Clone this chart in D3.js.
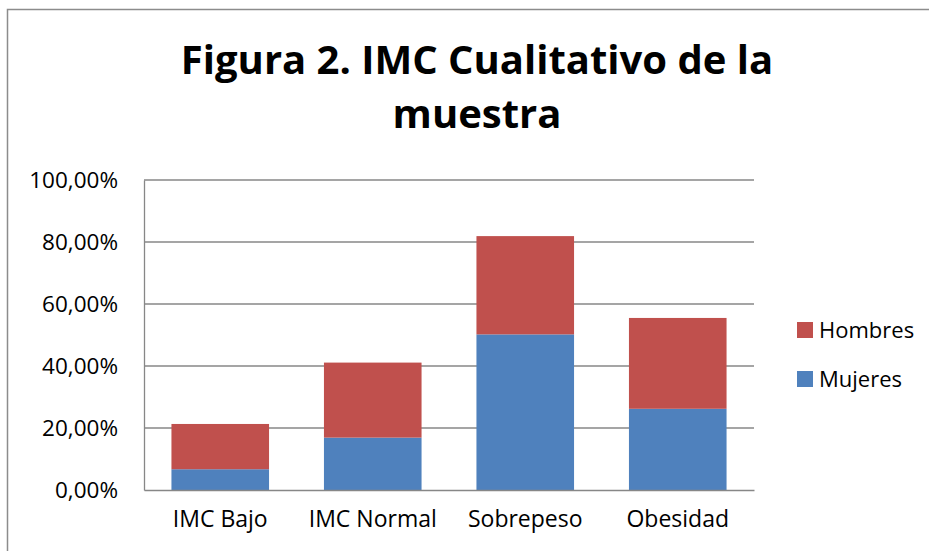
<!DOCTYPE html>
<html>
<head>
<meta charset="utf-8">
<script src="https://cdn.jsdelivr.net/npm/d3@7"></script>
<style>
  body { margin: 0; background: #fff; }
  text { font-family: "Open Sans", sans-serif; fill: #000; }
</style>
</head>
<body>
<div id="chart"></div>
<script>
// values (share of each group)
const categories = ["IMC Bajo", "IMC Normal", "Sobrepeso", "Obesidad"];
const mujeres = [0.067, 0.169, 0.502, 0.262];
const hombres = [0.146, 0.242, 0.317, 0.293];
const seriesNames = ["Mujeres", "Hombres"];
const tickValues = [0, 0.2, 0.4, 0.6, 0.8, 1.0];
const titleLines = ["Figura 2. IMC Cualitativo de la", "muestra"];

const width = 929, height = 551;
const colors = { "Mujeres": "#4F81BD", "Hombres": "#C0504D" };

const svg = d3.select("#chart").append("svg")
    .attr("width", width)
    .attr("height", height);

svg.append("rect")
    .attr("width", width).attr("height", height)
    .attr("fill", "#fff");

// chart border (right and bottom edges fall outside the frame)
svg.append("rect")
    .attr("x", 7.5).attr("y", 9.5)
    .attr("width", 1000).attr("height", 1000)
    .attr("fill", "none")
    .attr("stroke", "#8c8c8c")
    .attr("stroke-width", 1.5);

// title
svg.append("text")
    .attr("x", 477)
    .attr("text-anchor", "middle")
    .attr("font-weight", "bold")
    .attr("font-size", 40)
    .selectAll("tspan")
    .data(titleLines)
    .enter()
    .append("tspan")
    .attr("x", 477)
    .attr("y", (d, i) => 74 + i * 54)
    .text(d => d);

const x = d3.scaleBand()
    .domain(categories)
    .range([144, 754])
    .paddingInner(0.36)
    .paddingOuter(0.18);

const y = d3.scaleLinear()
    .domain([0, 1])
    .range([490, 180]);

// gridlines
svg.append("g")
    .selectAll("line")
    .data(tickValues.slice(1))
    .enter()
    .append("line")
    .attr("x1", 144).attr("x2", 754)
    .attr("y1", d => y(d)).attr("y2", d => y(d))
    .attr("stroke", "#878787")
    .attr("stroke-width", 1.3);

// stacked bars
let rows = categories.map((c, i) => ({ cat: c, Mujeres: mujeres[i], Hombres: hombres[i] }));
let stacked = d3.stack().keys(seriesNames)(rows);

svg.append("g")
    .selectAll("g")
    .data(stacked)
    .enter()
    .append("g")
    .attr("fill", d => colors[d.key])
    .selectAll("rect")
    .data(d => d)
    .enter()
    .append("rect")
    .attr("x", d => x(d.data.cat))
    .attr("width", x.bandwidth())
    .attr("y", d => y(d[1]))
    .attr("height", d => y(d[0]) - y(d[1]));

// axes
const yAxis = svg.append("g")
    .attr("transform", "translate(144,0)")
    .call(d3.axisLeft(y).tickValues(tickValues).tickSize(0).tickPadding(26)
        .tickFormat(d => d3.format(".2f")(d * 100).replace(".", ",") + "%"));
yAxis.select(".domain").attr("stroke", "#878787").attr("stroke-width", 1.3);
yAxis.selectAll("text")
    .attr("font-size", 22.5)
    .attr("font-family", "Open Sans, sans-serif");

const xAxis = svg.append("g")
    .attr("transform", "translate(0,490)")
    .call(d3.axisBottom(x).tickSize(0).tickPadding(21));
xAxis.select(".domain").attr("stroke", "#878787").attr("stroke-width", 1.3);
xAxis.selectAll("text")
    .attr("font-size", 23)
    .attr("font-family", "Open Sans, sans-serif");

// legend
const legendItems = ["Hombres", "Mujeres"];
let legend = svg.append("g")
    .selectAll("g")
    .data(legendItems)
    .enter()
    .append("g")
    .attr("transform", (d, i) => "translate(797," + (322 + i * 49) + ")");

legend.append("rect")
    .attr("width", 16).attr("height", 16)
    .attr("fill", d => colors[d]);

legend.append("text")
    .attr("x", 22)
    .attr("y", 15.5)
    .attr("font-size", 22)
    .text(d => d);
</script>
</body>
</html>
